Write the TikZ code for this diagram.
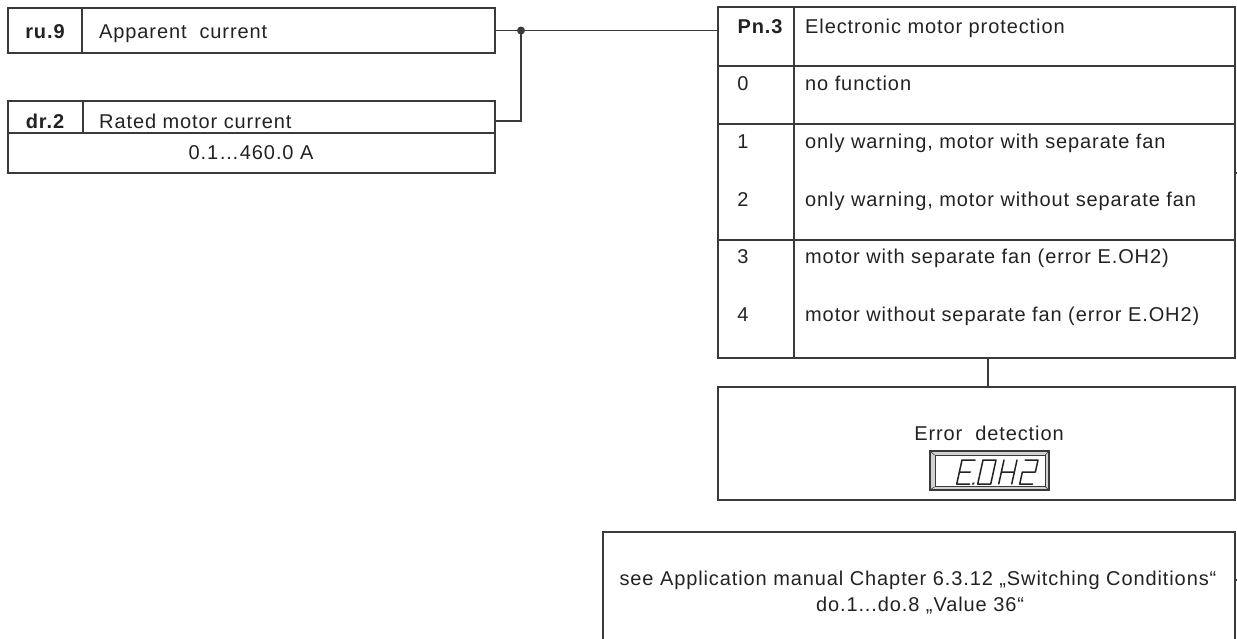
\documentclass[tikz,border=0pt]{standalone}
\usepackage{fontspec}
\setmainfont{Liberation Sans}[LetterSpace=4.5]
\definecolor{linec}{HTML}{3A3A3A}
\definecolor{textc}{HTML}{222222}
\begin{document}
\begin{tikzpicture}[x=1pt,y=-1pt,
  ln/.style={draw=linec, line width=1.1pt},
  box/.style={ln, rectangle, inner sep=0pt, outer sep=0pt, anchor=north west},
  txt/.style={inner sep=0pt, text=textc, font=\fontsize{20}{24}\selectfont},
  lbl/.style={txt, anchor=base west},
  ctr/.style={txt, anchor=base},
  bld/.style={txt, anchor=base, font=\fontsize{20}{24}\selectfont\bfseries},
  seg/.style={line width=1.5pt, draw=textc, line cap=round, line join=round}]
\useasboundingbox (0,0) rectangle (1237,638);

% ru.9
\node[box, minimum width=487pt, minimum height=45pt] (ru9) at (8,8) {};
\draw[ln] (82,8) -- (82,53);
\node[bld] (ru9id) at (45,38) {ru.9};
\node[lbl] (ru9t) at (99,38) {Apparent\ \ current};

% dr.2
\node[box, minimum width=487pt, minimum height=32pt] (dr2a) at (8,101) {};
\node[box, minimum width=487pt, minimum height=40pt] (dr2b) at (8,133) {};
\draw[ln] (83,101) -- (83,133);
\node[bld] (dr2id) at (45,128) {dr.2};
\node[lbl] (dr2t) at (99,128) {Rated motor current};
\node[ctr] (dr2r) at (251,159) {0.1…460.0 A};

% Pn.3
\node[box, minimum width=517pt, minimum height=351pt] (pn3) at (718,7) {};
\draw[ln] (718,66) -- (1235,66);
\draw[ln] (718,124) -- (1235,124);
\draw[ln] (718,240) -- (1235,240);
\draw[ln] (794,7) -- (794,358);
\node[bld] (pn3id) at (760,33) {Pn.3};
\node[lbl] (pn3t) at (805,33) {Electronic motor protection};
\node[ctr] (v0) at (743,90) {0};
\node[lbl] (t0) at (805,90) {no function};
\node[ctr] (v1) at (743,148) {1};
\node[lbl] (t1) at (805,148) {only warning, motor with separate fan};
\node[ctr] (v2) at (743,206) {2};
\node[lbl] (t2) at (805,206) {only warning, motor without separate fan};
\node[ctr] (v3) at (743,263) {3};
\node[lbl] (t3) at (805,263) {motor with separate fan (error E.OH2)};
\node[ctr] (v4) at (743,321) {4};
\node[lbl] (t4) at (805,321) {motor without separate fan (error E.OH2)};

% connectors left
\coordinate (jx) at (521,0);
\draw[ln] (ru9.east) -- (ru9.east -| pn3.west);
\draw[ln] ([yshift=-4pt]dr2a.east) -| (ru9.east -| jx);
\fill[linec] (ru9.east -| jx) circle (4pt);

% stubs on right edge
\coordinate (s1) at (1240,173);
\draw[ln] (s1 -| pn3.east) -- (s1);

% Error box
\node[box, minimum width=517pt, minimum height=113pt] (err) at (718,387) {};
\coordinate (vx) at (988,0);
\draw[draw=linec, line width=2.6pt] (pn3.south -| vx) -- (err.north -| vx);
\node[ctr] (errt) at (989,440) {Error\ \ detection};

% display
\node[draw=linec, line width=1.2pt, fill=gray!35, inner sep=0pt, outer sep=0pt,
      minimum width=119pt, minimum height=39pt, anchor=north west] (disp) at (930,451) {};
\node[draw=linec, line width=0.8pt, fill=white, inner sep=0pt,
      minimum width=110pt, minimum height=31pt, anchor=north west] (dispin) at (934.5,455) {};
\draw[linec, line width=0.6pt] (disp.north west) -- (dispin.north west)
  (disp.north east) -- (dispin.north east)
  (disp.south west) -- (dispin.south west)
  (disp.south east) -- (dispin.south east);
% E
\begin{scope}[shift={(962,460)}, xslant=0.22]
  \draw[seg] (13,0) -- (0,0) -- (0,24) -- (13,24) (0,12) -- (11,12);
  \fill[textc] (15.5,22.5) rectangle (17.5,24.5);
\end{scope}
% 0
\begin{scope}[shift={(983,460)}, xslant=0.22]
  \draw[seg] (0,0) rectangle (13,24);
\end{scope}
% H
\begin{scope}[shift={(1004,460)}, xslant=0.22]
  \draw[seg] (0,0) -- (0,24) (13,0) -- (13,24) (0,12) -- (13,12);
\end{scope}
% 2
\begin{scope}[shift={(1025,460)}, xslant=0.22]
  \draw[seg] (0,0) -- (13,0) -- (13,12) -- (0,12) -- (0,24) -- (13,24);
\end{scope}

% bottom box
\node[box, minimum width=632pt, minimum height=140pt] (see) at (603,532) {};
\coordinate (s2) at (1240,580);
\draw[ln] (s2 -| see.east) -- (s2);
\node[ctr] (seet1) at (918,585) {see Application manual Chapter 6.3.12 „Switching Conditions“};
\node[ctr] (seet2) at (920,611) {do.1...do.8 „Value 36“};
\end{tikzpicture}
\end{document}
